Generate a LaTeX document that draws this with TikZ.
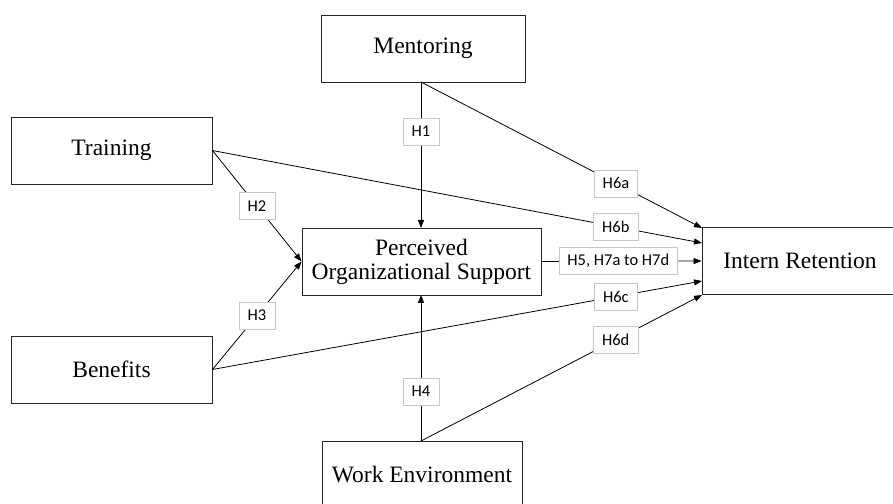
\documentclass[tikz,border=0pt]{standalone}
\usepackage{fontspec}
\setmainfont{Liberation Serif}
\newfontfamily\labfont{Carlito}
\usetikzlibrary{arrows.meta}
\begin{document}
\begin{tikzpicture}[x=1bp,y=-1bp,
  box/.style={draw=black!85,line width=0.9bp,fill=white,inner sep=0pt,align=center,
    font=\fontsize{23.5bp}{24bp}\selectfont},
  lab/.style={draw=black!22,line width=0.6bp,fill=white,font=\labfont\fontsize{16.5bp}{18bp}\selectfont,
    inner xsep=8.5bp,inner ysep=0pt,minimum height=27bp},
  conn/.style={draw=black,line width=0.8bp},
  arr/.style={conn,-{Triangle[length=8bp,width=6bp]}}]
\useasboundingbox (0,0) rectangle (893,504);
\fill[white] (0,0) rectangle (893,504);
% boxes
\node[box,minimum width=204bp,minimum height=67bp] (ment) at (423,48.5) {Mentoring};
\node[box,minimum width=201bp,minimum height=67bp] (tr) at (111.5,150.5) {Training};
\node[box,minimum width=201bp,minimum height=67bp] (ben) at (111.5,369.5) {Benefits};
\node[box,minimum width=239bp,minimum height=67bp] (pos) at (421.5,261.5) {Perceived\\Organizational Support};
\node[box,minimum width=196bp,minimum height=67bp] (ir) at (800,261) {Intern Retention};
\node[box,minimum width=200bp,minimum height=67bp] (we) at (422,474.5) {Work Environment};
% anchor points
\coordinate (ms) at (421,82);
\coordinate (pn) at (421,228);
\coordinate (ps) at (421,295);
\coordinate (wn) at (421,441);
\coordinate (ir1) at (702,228);
\coordinate (ir2) at (702,243);
\coordinate (ir4) at (702,281);
\coordinate (ir5) at (702,295);
% connectors
\draw[arr] (ms) -- node[lab,pos=0.34] {H1} (pn);
\draw[arr] (ms) -- node[lab,pos=0.694] {H6a} (ir1);
\draw[arr] (tr.east) -- node[lab,pos=0.5] {H2} (pos.west);
\draw[arr] (tr.east) -- node[lab,pos=0.824] {H6b} (ir2);
\draw[arr] (pos.east) -- node[lab,pos=0.48] {H5, H7a to H7d} (ir.west);
\draw[arr] (ben.east) -- node[lab,pos=0.5] {H3} (pos.west);
\draw[arr] (ben.east) -- node[lab,pos=0.824] {H6c} (ir4);
\draw[arr] (wn) -- node[lab,pos=0.34] {H4} (ps);
\draw[arr] (wn) -- node[lab,pos=0.693] {H6d} (ir5);
\end{tikzpicture}
\end{document}
